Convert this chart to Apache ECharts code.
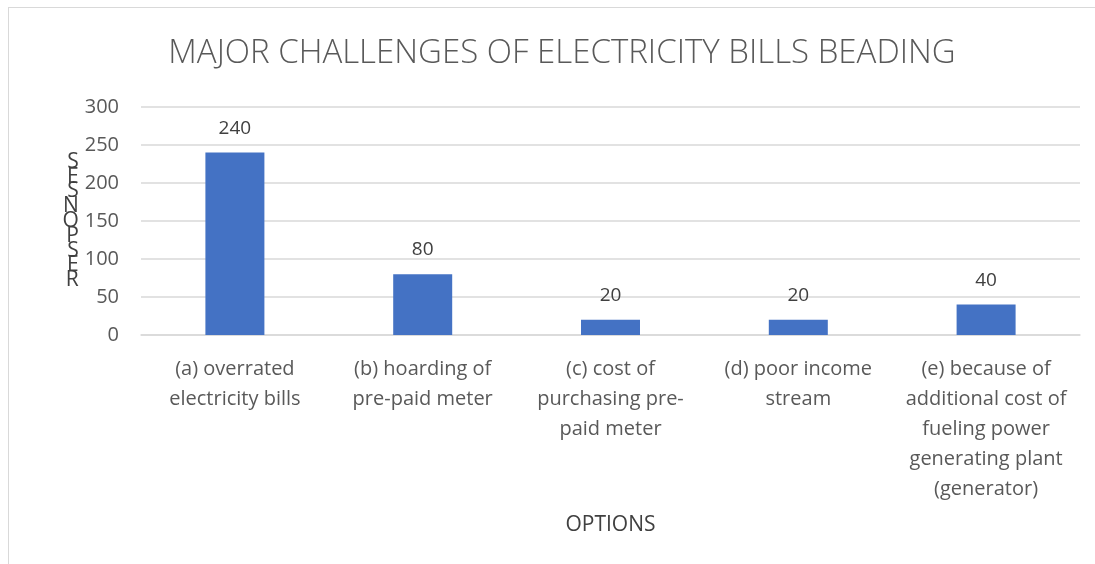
<!DOCTYPE html>
<html>
<head>
<meta charset="utf-8">
<script src="https://cdn.jsdelivr.net/npm/echarts@6/dist/echarts.min.js"></script>
<style>
  html, body { margin: 0; padding: 0; background: #fff; overflow: hidden; }
  #chart { position: absolute; left: 8px; top: 7px; width: 1087px; height: 557px;
    border-left: 1px solid #d9d9d9; border-top: 1px solid #d9d9d9; box-sizing: border-box; }
</style>
</head>
<body>
<div id="chart"></div>
<script>
const categories = [
  "(a) overrated\nelectricity bills",
  "(b) hoarding of\npre-paid meter",
  "(c) cost of\npurchasing pre-\npaid meter",
  "(d) poor income\nstream",
  "(e) because of\nadditional cost of\nfueling power\ngenerating plant\n(generator)"
];
const responses = [240, 80, 20, 20, 40];
const yTicks = [0, 50, 100, 150, 200, 250, 300];

const font = "'Open Sans', 'Noto Sans', sans-serif";
const chart = echarts.init(document.getElementById("chart"));
chart.setOption({
  animation: false,
  title: {
    text: "MAJOR CHALLENGES OF ELECTRICITY BILLS BEADING",
    left: 548, top: 24, textAlign: "center",
    textStyle: { fontFamily: font, fontSize: 33, fontWeight: 300, color: "#595959" }
  },
  grid: { left: 132, right: 15, top: 99, bottom: 229 },
  xAxis: {
    type: "category",
    data: categories,
    name: "OPTIONS",
    nameLocation: "middle",
    nameGap: 180,
    nameTextStyle: { fontFamily: font, fontSize: 21, color: "#404040" },
    axisLine: { lineStyle: { color: "#d9d9d9", width: 1.5 } },
    axisTick: { show: false },
    axisLabel: {
      interval: 0, margin: 19, lineHeight: 30,
      fontFamily: font, fontSize: 20, color: "#595959"
    }
  },
  yAxis: {
    type: "value",
    min: yTicks[0], max: yTicks[yTicks.length - 1], interval: 50,
    name: "RESPONSES".split("").reverse().join("\n"),
    nameLocation: "middle",
    nameRotate: 0,
    nameGap: 59,
    nameTextStyle: { fontFamily: font, fontSize: 21, lineHeight: 14.8, color: "#404040" },
    axisLine: { show: false },
    axisTick: { show: false },
    axisLabel: { margin: 22, fontFamily: font, fontSize: 20, color: "#595959" },
    splitLine: { lineStyle: { color: "#d9d9d9", width: 1.5 } }
  },
  series: [{
    type: "bar",
    data: responses,
    barWidth: 59,
    itemStyle: { color: "#4472c4" },
    label: {
      show: true, position: "top", distance: 15,
      fontFamily: font, fontSize: 19, color: "#404040"
    }
  }]
});
</script>
</body>
</html>
